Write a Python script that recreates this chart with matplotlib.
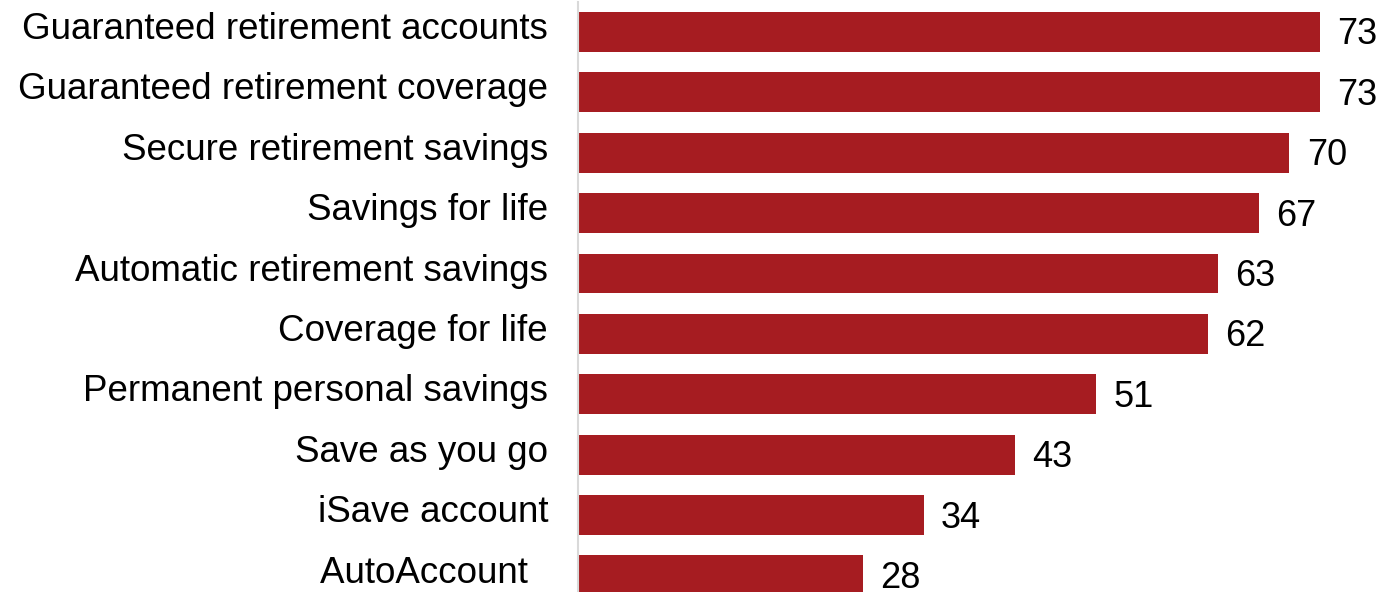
import matplotlib.pyplot as plt

plt.rcParams['font.family'] = ['Liberation Sans', 'DejaVu Sans']

names = ['Guaranteed retirement accounts', 'Guaranteed retirement coverage',
         'Secure retirement savings', 'Savings for life',
         'Automatic retirement savings', 'Coverage for life',
         'Permanent personal savings', 'Save as you go',
         'iSave account', 'AutoAccount  ']
scores = [73, 73, 70, 67, 63, 62, 51, 43, 34, 28]

fig = plt.figure(figsize=(13.86, 5.92), dpi=100)
ax = fig.add_axes([0.417, -0.023, 0.583, 1.02])

pos = list(range(len(names)))
ax.barh(pos, scores, height=0.66, color='#a61c21')
for p, s in zip(pos, scores):
    ax.text(s + 1.7, p + 0.05, str(s), va='center', ha='left', fontsize=26)

# category labels, sitting a touch above the bar centres
for p, n in zip(pos, names):
    ax.text(-0.037, p - 0.04, n, transform=ax.get_yaxis_transform(),
            va='center', ha='right', fontsize=26.5)

ax.set_xlim(0, 79.5)
ax.set_ylim(len(names) - 0.5, -0.5)
ax.set_yticks([])
ax.set_xticks([])
for side in ['top', 'right', 'bottom']:
    ax.spines[side].set_visible(False)
ax.spines['left'].set_color('#d9d9d9')
ax.spines['left'].set_linewidth(1.5)

fig.savefig('out.png', dpi=100)
